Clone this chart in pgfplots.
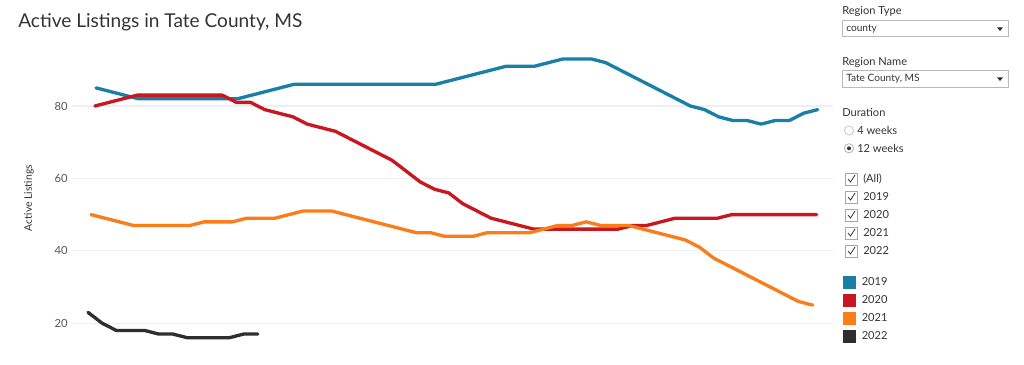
\documentclass[border=0pt]{standalone}
\usepackage{fontspec}
\setmainfont{Lato}
\usepackage{pgfplots}
\usepackage{pgfplotstable}
\pgfplotsset{compat=1.18}
\definecolor{c19}{HTML}{1A7FA6}
\definecolor{c20}{HTML}{C8171E}
\definecolor{c21}{HTML}{FA7D1A}
\definecolor{c22}{HTML}{2E2E2E}
\definecolor{txt}{HTML}{333333}
\definecolor{tick}{HTML}{555555}
\definecolor{gridc}{HTML}{EFEFEF}

\pgfplotstableread{
w v
0 85
1 84
2 83
3 82
4 82
5 82
6 82
7 82
8 82
9 82
10 82
11 83
12 84
13 85
14 86
15 86
16 86
17 86
18 86
19 86
20 86
21 86
22 86
23 86
24 86
25 87
26 88
27 89
28 90
29 91
30 91
31 91
32 92
33 93
34 93
35 93
36 92
37 90
38 88
39 86
40 84
41 82
42 80
43 79
44 77
45 76
46 76
47 75
48 76
49 76
50 78
51 79
}\tblA

\pgfplotstableread{
w v
0 80
1 81
2 82
3 83
4 83
5 83
6 83
7 83
8 83
9 83
10 81
11 81
12 79
13 78
14 77
15 75
16 74
17 73
18 71
19 69
20 67
21 65
22 62
23 59
24 57
25 56
26 53
27 51
28 49
29 48
30 47
31 46
32 46
33 46
34 46
35 46
36 46
37 46
38 47
39 47
40 48
41 49
42 49
43 49
44 49
45 50
46 50
47 50
48 50
49 50
50 50
51 50
}\tblB

\pgfplotstableread{
w v
0 50
1 49
2 48
3 47
4 47
5 47
6 47
7 47
8 48
9 48
10 48
11 49
12 49
13 49
14 50
15 51
16 51
17 51
18 50
19 49
20 48
21 47
22 46
23 45
24 45
25 44
26 44
27 44
28 45
29 45
30 45
31 45
32 46
33 47
34 47
35 48
36 47
37 47
38 47
39 46
40 45
41 44
42 43
43 41
44 38
45 36
46 34
47 32
48 30
49 28
50 26
51 25
}\tblC

\pgfplotstableread{
w v
0 23
1 20
2 18
3 18
4 18
5 17
6 17
7 16
8 16
9 16
10 16
11 17
12 17
}\tblD

\begin{document}
\begin{tikzpicture}
\useasboundingbox (0,0) rectangle (768pt,-273pt);
\begin{axis}[
  at={(54pt,-264.12pt)}, anchor=south west,
  scale only axis, width=570.75pt, height=230.78pt,
  xmin=-1.13, xmax=52.65, ymin=12, ymax=97,
  xtick=\empty, ytick={20,40,60,80},
  axis line style={draw=none}, tick style={draw=none},
  ymajorgrids, grid style={gridc, line width=0.9pt},
  /pgf/number format/assume math mode=true,
  yticklabel style={font=\fontsize{8.4}{10}\selectfont, text=tick, inner sep=0pt, anchor=east, xshift=-3pt},
  every axis plot/.append style={line width=2.5pt, line join=round, line cap=round},
  clip=false,
]
\addplot[c19] table[x expr=\thisrow{w}+0.57, y=v] {\tblA};
\addplot[c20] table[x expr=\thisrow{w}+0.49, y=v] {\tblB};
\addplot[c21] table[x expr=\thisrow{w}+0.21, y=v] {\tblC};
\addplot[c22] table[x expr=\thisrow{w}, y=v] {\tblD};
\end{axis}
\begin{scope}[x=0.75pt, y=-0.75pt]
  \node[anchor=base west, inner sep=0pt, text=txt, font=\fontsize{14.3}{17}\selectfont] at (18,27.5) {Active Listings in Tate County, MS};
  \node[rotate=90, inner sep=0pt, text=txt, font=\fontsize{7.8}{9}\selectfont] at (29,198) {Active Listings};
  % panel
  \tikzset{ptxt/.style={anchor=west, inner sep=0pt, text=txt, font=\fontsize{8.3}{10}\selectfont}}
  \tikzset{btxt/.style={anchor=west, inner sep=0pt, text=txt, font=\fontsize{7.6}{9}\selectfont}}
  \node[ptxt] at (842,11) {Region Type};
  \draw[gray!55, line width=0.6pt] (842.5,20.5) rectangle (1008,36.5);
  \node[btxt] at (846,28.5) {county};
  \fill[black!85] (997,27.3) -- (1003,27.3) -- (1000,31) -- cycle;
  \node[ptxt] at (842,62) {Region Name};
  \draw[gray!55, line width=0.6pt] (842.5,70) rectangle (1008,87);
  \node[btxt] at (846,78.5) {Tate County, MS};
  \fill[black!85] (997,77.3) -- (1003,77.3) -- (1000,81) -- cycle;
  \node[ptxt] at (842,112) {Duration};
  \draw[gray!45, line width=0.6pt] (849,130.5) circle (4.6);
  \node[ptxt] at (857,130.5) {4 weeks};
  \draw[gray!60, line width=0.6pt] (849,148.3) circle (4.6);
  \fill[txt] (849,148.3) circle (2);
  \node[ptxt] at (857,148.3) {12 weeks};
  \foreach \yy/\lab in {179/(All),197/2019,215/2020,233/2021,251/2022}{
    \draw[gray!70, line width=0.7pt] (845.5,\yy-6) rectangle (857.5,\yy+6);
    \draw[txt, line width=0.6pt] (848,\yy) -- (850.5,\yy+3) -- (855,\yy-4);
    \node[ptxt] at (863,\yy) {\lab};
  }
  \foreach \yy/\cc/\lab in {282/c19/2019,300/c20/2020,318/c21/2021,336/c22/2022}{
    \fill[\cc] (843,\yy-6.5) rectangle (856,\yy+6.5);
    \node[ptxt] at (861.5,\yy) {\lab};
  }
\end{scope}
\end{tikzpicture}
\end{document}
